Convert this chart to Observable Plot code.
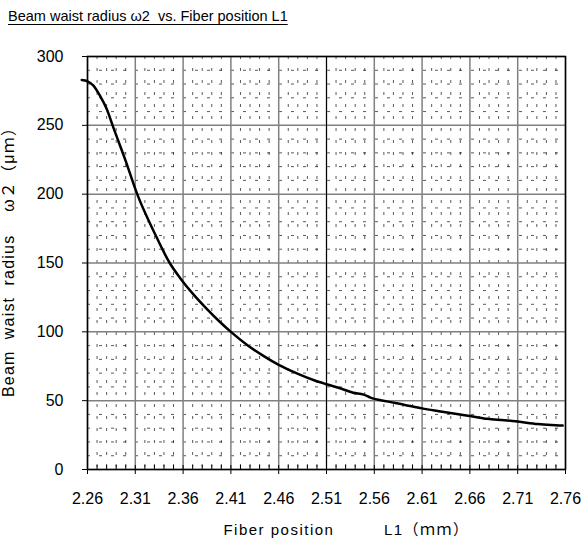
<!DOCTYPE html>
<html>
<head>
<meta charset="utf-8">
<script src="https://cdn.jsdelivr.net/npm/d3@7"></script>
<script src="https://cdn.jsdelivr.net/npm/@observablehq/plot@0.6"></script>
<style>
  body { margin: 0; background: #fff; }
  #wrap { width: 581px; height: 542px; position: relative; font-family: "Liberation Sans", Arial, "Noto Sans CJK JP", sans-serif; color: #000; }
  #title { position: relative; height: 34px; }
  #title span { position: absolute; left: 8px; top: 9px; font-size: 14.5px; line-height: 15px; white-space: pre; text-decoration: underline; text-underline-offset: 3px; }
  svg text { white-space: pre; }
</style>
</head>
<body>
<div id="wrap">
  <div id="title"><span id="ttl"></span></div>
  <div id="chart"></div>
</div>
<script>
const titleText = "Beam waist radius ω2  vs. Fiber position L1";
const xLabel = "Fiber position　　　L1（ｍｍ）";
const yLabel = "Beam  waist  radius　 ω２（μｍ）";

const fiberPos = [2.254, 2.260, 2.266, 2.273, 2.280, 2.287, 2.300, 2.312, 2.330, 2.346, 2.357, 2.371, 2.385, 2.398, 2.410, 2.427, 2.444, 2.460, 2.479, 2.497, 2.510, 2.525, 2.538, 2.549, 2.556, 2.573, 2.591, 2.610, 2.626, 2.643, 2.660, 2.678, 2.696, 2.710, 2.731, 2.745, 2.757];
const waist = [283, 282, 279, 271.5, 262, 248.5, 224, 200, 172, 150, 139, 127, 116.5, 107.5, 100, 90.5, 82.5, 76, 69.8, 64.8, 61.9, 58.8, 55.8, 54.4, 52.2, 49.5, 47.1, 44.4, 42.5, 40.6, 38.9, 36.8, 35.8, 34.8, 33, 32.3, 31.9];

const xTicks = [2.26, 2.31, 2.36, 2.41, 2.46, 2.51, 2.56, 2.61, 2.66, 2.71, 2.76];
const yTicks = [0, 50, 100, 150, 200, 250, 300];

document.getElementById("ttl").textContent = titleText;

const data = fiberPos.map((x, i) => ({x, y: waist[i]}));
const xMinor = d3.range(226, 277).map(d => d / 100);
const yMinor = d3.range(0, 301, 10);
const isMajorX = v => xTicks.some(t => Math.abs(t - v) < 1e-6);
const isMajorY = v => yTicks.includes(v);

const chart = Plot.plot({
  width: 581,
  height: 508,
  marginTop: 22,
  marginBottom: 73,
  marginLeft: 87,
  marginRight: 16,
  style: {fontFamily: "'Liberation Sans', Arial, 'Noto Sans CJK JP', sans-serif", fontSize: "16px", color: "#000", background: "#fff"},
  x: {domain: [2.26, 2.76]},
  y: {domain: [0, 300]},
  marks: [
    Plot.gridX(xMinor.filter(v => !isMajorX(v)), {stroke: "#000", strokeOpacity: 0.65, strokeWidth: 1, strokeDasharray: "3,9"}),
    Plot.gridY(yMinor.filter(v => !isMajorY(v)), {stroke: "#000", strokeOpacity: 0.65, strokeWidth: 1, strokeDasharray: "3,9"}),
    Plot.gridX(xTicks, {stroke: "#808080", strokeOpacity: 1, strokeWidth: 1.5}),
    Plot.gridY(yTicks, {stroke: "#808080", strokeOpacity: 1, strokeWidth: 1.5}),
    Plot.gridX([2.51], {stroke: "#000", strokeOpacity: 1, strokeWidth: 1}),
    Plot.axisX(xMinor, {tickSize: -4, text: null, label: null, stroke: "#000"}),
    Plot.axisX(xTicks, {tickSize: 5, tickPadding: 18, tickFormat: d => d.toFixed(2), label: null, fontSize: 16, stroke: "#000"}),
    Plot.axisY(yTicks, {tickSize: 5, tickPadding: 19, label: null, fontSize: 16, stroke: "#000"}),
    Plot.frame({stroke: "#000", strokeWidth: 1.5}),
    Plot.line(data, {x: "x", y: "y", stroke: "#000", strokeWidth: 2.5, curve: "monotone-x", strokeLinejoin: "round", strokeLinecap: "round"}),
    Plot.text([xLabel], {text: d => d, frameAnchor: "bottom", textAnchor: "middle", dx: 20, dy: 65, fontSize: 15, fill: "#000"}),
    Plot.text([yLabel], {text: d => d, frameAnchor: "left", textAnchor: "middle", rotate: -90, dx: -79, dy: -5, fontSize: 16, fill: "#000"})
  ]
});
document.getElementById("chart").appendChild(chart);
d3.select(chart).selectAll("text").filter(function() { return this.textContent === xLabel; }).style("letter-spacing", "1.5px");
d3.select(chart).selectAll("text").filter(function() { return this.textContent === yLabel; }).style("letter-spacing", "1.2px");
</script>
</body>
</html>
